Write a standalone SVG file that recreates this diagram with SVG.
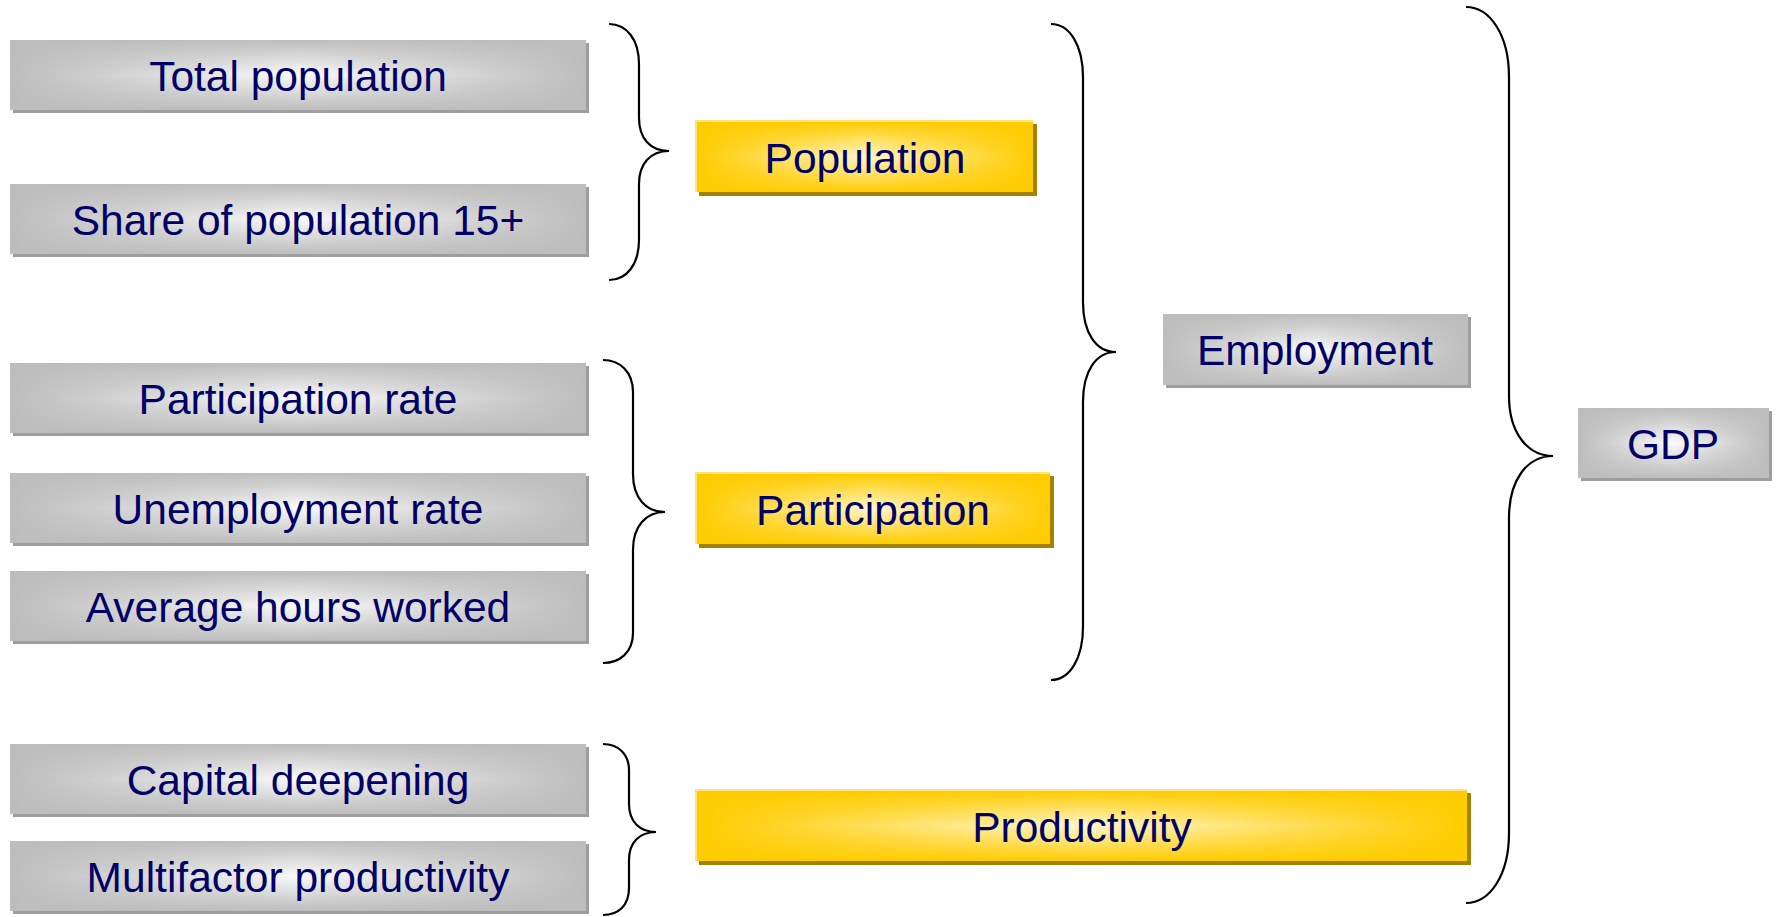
<svg xmlns="http://www.w3.org/2000/svg" width="1777" height="917" viewBox="0 0 1777 917">
<defs>
<linearGradient id="gV" x1="0" y1="0" x2="0" y2="1">
<stop offset="0" stop-color="#BDBDBD"/><stop offset="0.5" stop-color="#FAFAFA"/><stop offset="1" stop-color="#BDBDBD"/>
</linearGradient>
<linearGradient id="gH" x1="0" y1="0" x2="1" y2="0">
<stop offset="0" stop-color="#BDBDBD" stop-opacity="1"/><stop offset="0.5" stop-color="#BDBDBD" stop-opacity="0"/><stop offset="1" stop-color="#BDBDBD" stop-opacity="1"/>
</linearGradient>
<linearGradient id="yV" x1="0" y1="0" x2="0" y2="1">
<stop offset="0" stop-color="#FFCC00"/><stop offset="0.5" stop-color="#FFF7D0"/><stop offset="1" stop-color="#FFCC00"/>
</linearGradient>
<linearGradient id="yH" x1="0" y1="0" x2="1" y2="0">
<stop offset="0" stop-color="#FFCC00" stop-opacity="1"/><stop offset="0.5" stop-color="#FFCC00" stop-opacity="0"/><stop offset="1" stop-color="#FFCC00" stop-opacity="1"/>
</linearGradient>
</defs>
<style>
.gs{fill:#9E9E9E}
.ys{fill:#A38200}
.yh{fill:#FFE27A}
.gv{fill:url(#gV)}
.gh{fill:url(#gH)}
.yv{fill:url(#yV)}
.yhz{fill:url(#yH)}
.t{font-family:"Liberation Sans",Arial,sans-serif;font-size:42.5px;fill:#000066;text-anchor:middle}
.br{fill:none;stroke:#000;stroke-width:2.2}
</style>

<g id="total-population">
<rect class="gs" x="13" y="43" width="576" height="70"/>
<rect class="gv" x="10" y="40" width="576" height="70"/>
<rect class="gh" x="10" y="40" width="576" height="70"/>
<text class="t" x="298" y="91">Total population</text>
</g>
<g id="share-population">
<rect class="gs" x="13" y="187" width="576" height="70"/>
<rect class="gv" x="10" y="184" width="576" height="70"/>
<rect class="gh" x="10" y="184" width="576" height="70"/>
<text class="t" x="298" y="235">Share of population 15+</text>
</g>
<g id="participation-rate">
<rect class="gs" x="13" y="366" width="576" height="70"/>
<rect class="gv" x="10" y="363" width="576" height="70"/>
<rect class="gh" x="10" y="363" width="576" height="70"/>
<text class="t" x="298" y="414">Participation rate</text>
</g>
<g id="unemployment-rate">
<rect class="gs" x="13" y="476" width="576" height="70"/>
<rect class="gv" x="10" y="473" width="576" height="70"/>
<rect class="gh" x="10" y="473" width="576" height="70"/>
<text class="t" x="298" y="524">Unemployment rate</text>
</g>
<g id="average-hours">
<rect class="gs" x="13" y="574" width="576" height="70"/>
<rect class="gv" x="10" y="571" width="576" height="70"/>
<rect class="gh" x="10" y="571" width="576" height="70"/>
<text class="t" x="298" y="622">Average hours worked</text>
</g>
<g id="capital-deepening">
<rect class="gs" x="13" y="747" width="576" height="70"/>
<rect class="gv" x="10" y="744" width="576" height="70"/>
<rect class="gh" x="10" y="744" width="576" height="70"/>
<text class="t" x="298" y="795">Capital deepening</text>
</g>
<g id="multifactor-productivity">
<rect class="gs" x="13" y="844" width="576" height="70"/>
<rect class="gv" x="10" y="841" width="576" height="70"/>
<rect class="gh" x="10" y="841" width="576" height="70"/>
<text class="t" x="298" y="892">Multifactor productivity</text>
</g>

<g id="population">
<rect class="ys" x="699" y="124" width="338" height="72"/>
<rect class="yh" x="695" y="120" width="338" height="72"/>
<rect class="yv" x="697" y="122" width="336" height="70"/>
<rect class="yhz" x="697" y="122" width="336" height="70"/>
<text class="t" x="865" y="173">Population</text>
</g>
<g id="participation">
<rect class="ys" x="699" y="476" width="355" height="72"/>
<rect class="yh" x="695" y="472" width="355" height="72"/>
<rect class="yv" x="697" y="474" width="353" height="70"/>
<rect class="yhz" x="697" y="474" width="353" height="70"/>
<text class="t" x="873" y="525">Participation</text>
</g>
<g id="productivity">
<rect class="ys" x="699" y="793" width="772" height="72"/>
<rect class="yh" x="695" y="789" width="772" height="72"/>
<rect class="yv" x="697" y="791" width="770" height="70"/>
<rect class="yhz" x="697" y="791" width="770" height="70"/>
<text class="t" x="1082" y="842">Productivity</text>
</g>

<g id="employment">
<rect class="gs" x="1166" y="317" width="305" height="71"/>
<rect class="gv" x="1163" y="314" width="305" height="71"/>
<rect class="gh" x="1163" y="314" width="305" height="71"/>
<text class="t" x="1315" y="365">Employment</text>
</g>
<g id="gdp">
<rect class="gs" x="1581" y="411" width="191" height="70"/>
<rect class="gv" x="1578" y="408" width="191" height="70"/>
<rect class="gh" x="1578" y="408" width="191" height="70"/>
<text class="t" x="1673" y="459">GDP</text>
</g>

<g id="connectors">
<path class="br" d="M609 24 C627 24 639 40 639 64 L639 118 C639 138 650 151 669 151 C650 151 639 164 639 184 L639 240 C639 264 627 280 609 280"/>
<path class="br" d="M603 360 C620 360 633 372 633 392 L633 474 C633 498 646 512 665 512 C646 512 633 526 633 550 L633 633 C633 652 620 663 603 663"/>
<path class="br" d="M603 744 C618 744 629 754 629 770 L629 804 C629 822 640 832 656 832 C640 832 629 842 629 860 L629 888 C629 906 618 915 603 915"/>
<path class="br" d="M1051 24 C1070 24 1083 46 1083 77 L1083 302 C1083 333 1096 352 1116 352 C1096 352 1083 371 1083 402 L1083 627 C1083 658 1070 680 1051 680"/>
<path class="br" d="M1466 7 C1490 7 1509 35 1509 77 L1509 396 C1509 432 1527 456 1553 456 C1527 456 1509 480 1509 518 L1509 833 C1509 875 1490 903 1466 903"/>
</g>
</svg>
